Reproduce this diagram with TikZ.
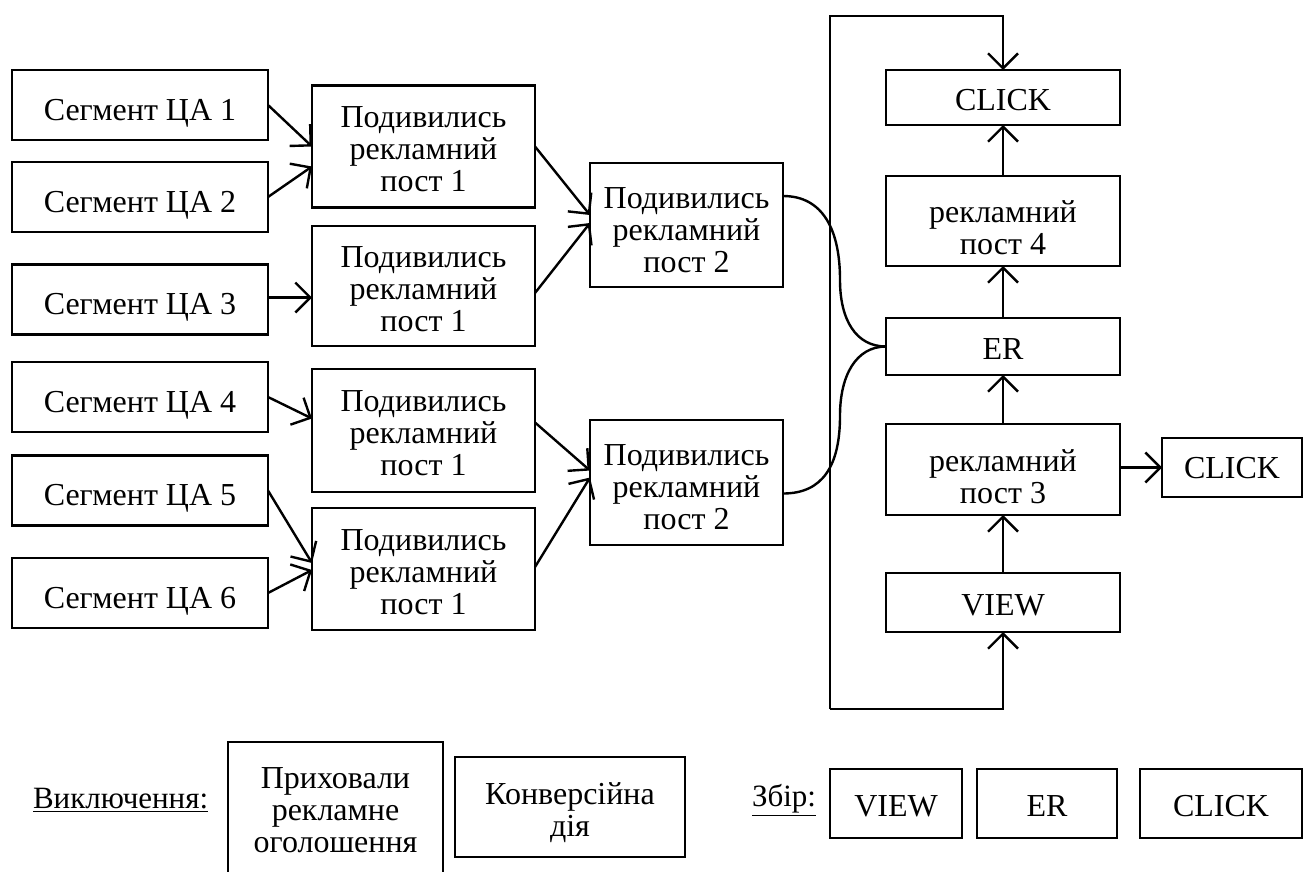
\documentclass[tikz,border=0pt]{standalone}
\usepackage{fontspec}
\setmainfont{Liberation Serif}
\usetikzlibrary{arrows.meta,calc}
\newcommand\mydn[1]{\rule{0pt}{#1}}
\tikzset{
  box/.style={draw, line width=2.4pt, inner sep=0pt, outer sep=0pt, align=center},
  one/.style={text height=26pt, text depth=0pt},
  txt/.style={inner sep=0pt, outer sep=0pt, align=center},
  arr/.style={line width=2.4pt, -{Straight Barb[length=15pt,width=30pt,line width=2.4pt]}},
  ln/.style={line width=2.4pt},
  every node/.style={font=\fontsize{32}{32}\selectfont}
}
\begin{document}
\begin{tikzpicture}[x=1pt,y=-1pt]
\useasboundingbox (0,0) rectangle (1305,871);
% left column
\node[box, one, text height=30pt, minimum width=256pt, minimum height=70pt] (s1) at (140,105) {Сегмент ЦА 1};
\node[box, one, text height=30pt, minimum width=256pt, minimum height=70pt] (s2) at (140,197) {Сегмент ЦА 2};
\node[box, one, text height=30pt, minimum width=256pt, minimum height=70pt] (s3) at (140,299.5) {Сегмент ЦА 3};
\node[box, one, text height=30pt, minimum width=256pt, minimum height=70pt] (s4) at (140,397) {Сегмент ЦА 4};
\node[box, one, text height=30pt, minimum width=256pt, minimum height=70pt] (s5) at (140,490.5) {Сегмент ЦА 5};
\node[box, one, text height=30pt, minimum width=256pt, minimum height=70pt] (s6) at (140,593) {Сегмент ЦА 6};
% middle column
\node[box, minimum width=223pt, minimum height=122pt] (p1a) at (423.5,146.5) {\mydn{27pt}Подивились\\рекламний\\пост 1};
\node[box, minimum width=223pt, minimum height=120pt] (p1b) at (423.5,286) {\mydn{27pt}Подивились\\рекламний\\пост 1};
\node[box, minimum width=223pt, minimum height=123pt] (p1c) at (423.5,430.5) {\mydn{27pt}Подивились\\рекламний\\пост 1};
\node[box, minimum width=223pt, minimum height=122pt] (p1d) at (423.5,569) {\mydn{27pt}Подивились\\рекламний\\пост 1};
% second level
\node[box, minimum width=193pt, minimum height=124pt] (p2a) at (686.5,225) {\mydn{31pt}Подивились\\рекламний\\пост 2};
\node[box, minimum width=193pt, minimum height=125pt] (p2b) at (686.5,482.5) {\mydn{31pt}Подивились\\рекламний\\пост 2};
% right column
\node[box, one, minimum width=234pt, minimum height=55pt] (clickt) at (1003,97.5) {CLICK};
\node[box, minimum width=234pt, minimum height=90pt] (post4) at (1003,221) {\mydn{36pt}рекламний\\пост 4};
\node[box, one, minimum width=234pt, minimum height=57pt] (er) at (1003,346.5) {ER};
\node[box, minimum width=234pt, minimum height=91pt] (post3) at (1003,469.5) {\mydn{36pt}рекламний\\пост 3};
\node[box, one, minimum width=234pt, minimum height=59pt] (view) at (1003,602.5) {VIEW};
\node[box, one, text height=22pt, minimum width=140pt, minimum height=59pt] (clickr) at (1232,467.5) {CLICK};
% arrows left -> middle
\draw[arr] (s1.east) -- (p1a.west);
\draw[arr] (s2.east) -- ([yshift=-20pt]p1a.west);
\draw[arr] ([yshift=2pt]s3.east) -- ([yshift=2pt]s3.east -| p1b.west);
\draw[arr] (s4.east) -- ([yshift=12pt]p1c.west);
\draw[arr] (s5.east) -- ([yshift=6pt]p1d.west);
\draw[arr] (s6.east) -- ([yshift=-1pt]p1d.west);
% middle -> second
\draw[arr] (p1a.east) -- ([yshift=10pt]p2a.west);
\draw[arr] ([yshift=-7pt]p1b.east) -- ([yshift=2pt]p2a.west);
\draw[arr] ([yshift=8pt]p1c.east) -- ([yshift=12pt]p2b.west);
\draw[arr] ([yshift=2pt]p1d.east) -- ([yshift=5pt]p2b.west);
% curves into ER
\draw[ln] ([yshift=29pt]p2a.east) .. controls +(40,0) and +(0,-50) .. ++(57,84)
          .. controls +(0,40) and +(-30,0) .. (er.west);
\draw[ln] ([yshift=-11pt]p2b.east) .. controls +(40,0) and +(0,50) .. ++(57,-78)
          .. controls +(0,-40) and +(-30,0) .. (er.west);
% right column arrows
\draw[arr] (view.north) -- (post3.south);
\draw[arr] (post3.north) -- (er.south);
\draw[arr] (er.north) -- (post4.south);
\draw[arr] (post4.north) -- (clickt.south);
\draw[arr] ([yshift=2pt]post3.east) -- ([yshift=2pt]post3.east -| clickr.west);
% feedback loop
\coordinate (lt) at (830,16);
\coordinate (lb) at (830,709);
\draw[arr] (lb) -- (lt) -| (clickt.north);
\draw[arr] (lb) -| (view.south);
% legend
\node[txt, anchor=west, font=\fontsize{31}{31}\selectfont] (excl) at (33,800) {\underline{Виключення:}};
\node[draw, line width=2.4pt, inner sep=0pt, minimum width=215pt, minimum height=150pt, anchor=north] (prih) at (335.5,741) {};
\node[txt] (prihT) at (335.5,810) {Приховали\\рекламне\\оголошення};
\node[box, minimum width=230pt, minimum height=100pt] (konv) at (570,807) {\mydn{33pt}Конверсійна\\дія};
\node[txt, anchor=west, font=\fontsize{31}{31}\selectfont] (zbir) at (752,800) {\underline{Збір:}};
\node[box, one, minimum width=132pt, minimum height=69pt] (lview) at (896,803.5) {VIEW};
\node[box, one, minimum width=140pt, minimum height=69pt] (ler) at (1047,803.5) {ER};
\node[box, one, minimum width=162pt, minimum height=69pt] (lclick) at (1221,803.5) {CLICK};
\end{tikzpicture}
\end{document}
